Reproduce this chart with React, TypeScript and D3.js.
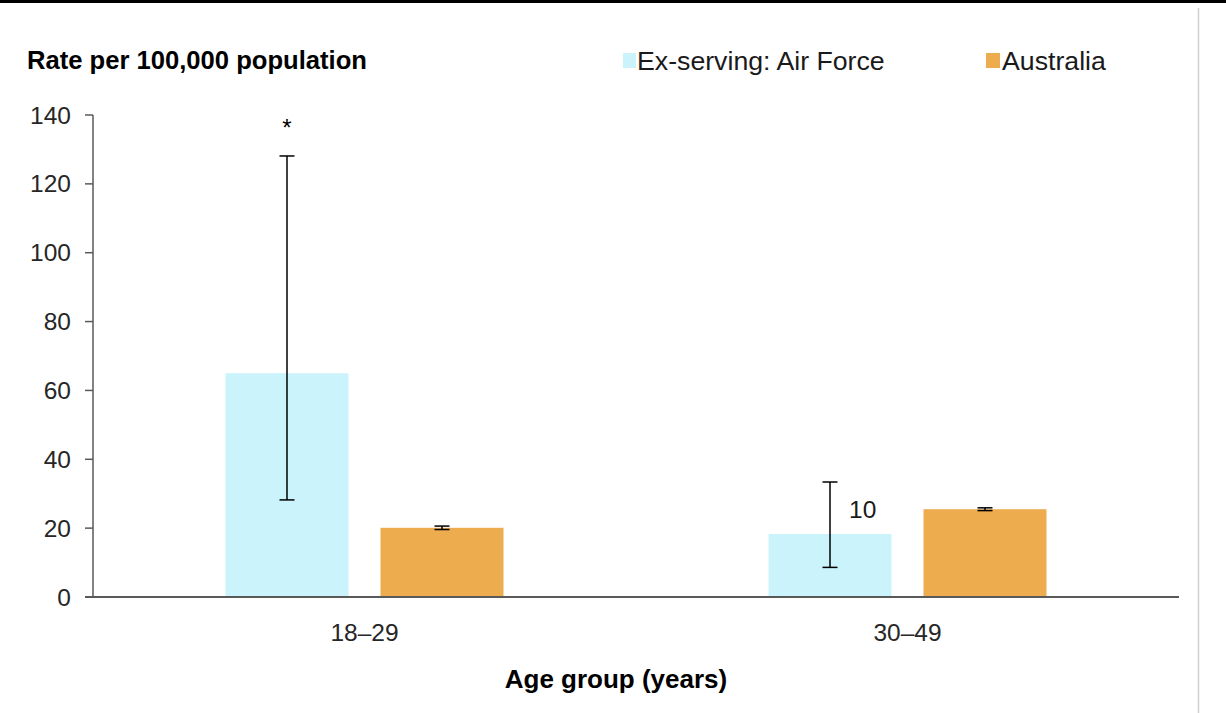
import React from "react";
import * as d3 from "d3";

const categories = ["18–29", "30–49"];
const seriesNames = ["Ex-serving: Air Force", "Australia"];
const airForce = [65, 18.3];
const airForceLow = [28.2, 8.6];
const airForceHigh = [128.1, 33.4];
const australia = [20.1, 25.5];
const australiaLow = [19.6, 25.1];
const australiaHigh = [20.6, 25.9];
const airForceLabels = ["*", "10"];
const yTicks = [0, 20, 40, 60, 80, 100, 120, 140];

const W = 1226;
const H = 713;
const FONT = "'Liberation Sans', Arial, sans-serif";
const colors = ["#CBF3FC", "#EDAC4E"];

export default function App() {
  const left = 93, right = 1179, top = 115, bottom = 597;
  const x0 = d3.scaleBand().domain(categories).range([left, right]).paddingInner(0).paddingOuter(0);
  const y = d3.scaleLinear().domain([0, 140]).range([bottom, top]);
  const bw = 123, gap = 32;
  const series = [
    { name: seriesNames[0], vals: airForce, lo: airForceLow, hi: airForceHigh },
    { name: seriesNames[1], vals: australia, lo: australiaLow, hi: australiaHigh },
  ];
  const barX = (ci: number, si: number) => {
    const c = (x0(categories[ci]) as number) + x0.bandwidth() / 2;
    return si === 0 ? c - gap / 2 - bw : c + gap / 2;
  };
  const axisColor = "#595959";
  return (
    <svg width={W} height={H} style={{ position: "fixed", left: 0, top: 0, background: "#fff" }} fontFamily={FONT}>
      <rect x={0} y={0} width={W} height={H} fill="#fff" />
      <line x1={0} x2={W} y1={1.5} y2={1.5} stroke="#000" strokeWidth={3} />
      <line x1={1198.5} x2={1198.5} y1={8} y2={H} stroke="#d0d0d0" strokeWidth={1.5} />
      <text x={27} y={69} fontSize={25.6} fontWeight="bold" fill="#000">Rate per 100,000 population</text>
      {/* legend */}
      <rect x={623} y={53} width={13} height={15} fill={colors[0]} />
      <text x={637} y={70} fontSize={26.7} fill="#1a1a1a">{seriesNames[0]}</text>
      <rect x={986} y={53} width={14} height={15} fill={colors[1]} />
      <text x={1002} y={70} fontSize={26.7} fill="#1a1a1a">{seriesNames[1]}</text>
      {/* y axis */}
      {yTicks.map((t) => (
        <g key={t}>
          <line x1={85} x2={left} y1={y(t)} y2={y(t)} stroke={axisColor} strokeWidth={1.5} />
          <text x={71} y={y(t) + 8.5} fontSize={24.5} textAnchor="end" fill="#262626">{t}</text>
        </g>
      ))}
      {/* bars */}
      {series.map((s, si) =>
        s.vals.map((v, ci) => (
          <rect key={`${si}-${ci}`} x={barX(ci, si)} y={y(v)} width={bw} height={bottom - y(v)} fill={colors[si]} />
        ))
      )}
      {/* error bars */}
      {series.map((s, si) =>
        s.vals.map((v, ci) => {
          const cx = barX(ci, si) + bw / 2;
          return (
            <g key={`e${si}-${ci}`} stroke="#000" strokeWidth={1.5}>
              <line x1={cx} x2={cx} y1={y(s.hi[ci])} y2={y(s.lo[ci])} />
              <line x1={cx - 7.5} x2={cx + 7.5} y1={y(s.hi[ci])} y2={y(s.hi[ci])} />
              <line x1={cx - 7.5} x2={cx + 7.5} y1={y(s.lo[ci])} y2={y(s.lo[ci])} />
            </g>
          );
        })
      )}
      {/* labels */}
      <text x={barX(0, 0) + bw / 2} y={y(airForceHigh[0]) - 20} fontSize={24} textAnchor="middle" fill="#000">{airForceLabels[0]}</text>
      <text x={849} y={y(airForce[1]) - 16} fontSize={24.5} fill="#1a1a1a">{airForceLabels[1]}</text>
      {/* x axis */}
      <line x1={left - 8} x2={right} y1={bottom} y2={bottom} stroke={axisColor} strokeWidth={2} />
      <line x1={left} x2={left} y1={top} y2={bottom} stroke={axisColor} strokeWidth={1.5} />
      {categories.map((c) => (
        <text key={c} x={(x0(c) as number) + x0.bandwidth() / 2} y={641} fontSize={24.5} textAnchor="middle" fill="#262626">{c}</text>
      ))}
      <text x={616} y={688} fontSize={26} fontWeight="bold" textAnchor="middle" fill="#000">Age group (years)</text>
    </svg>
  );
}
